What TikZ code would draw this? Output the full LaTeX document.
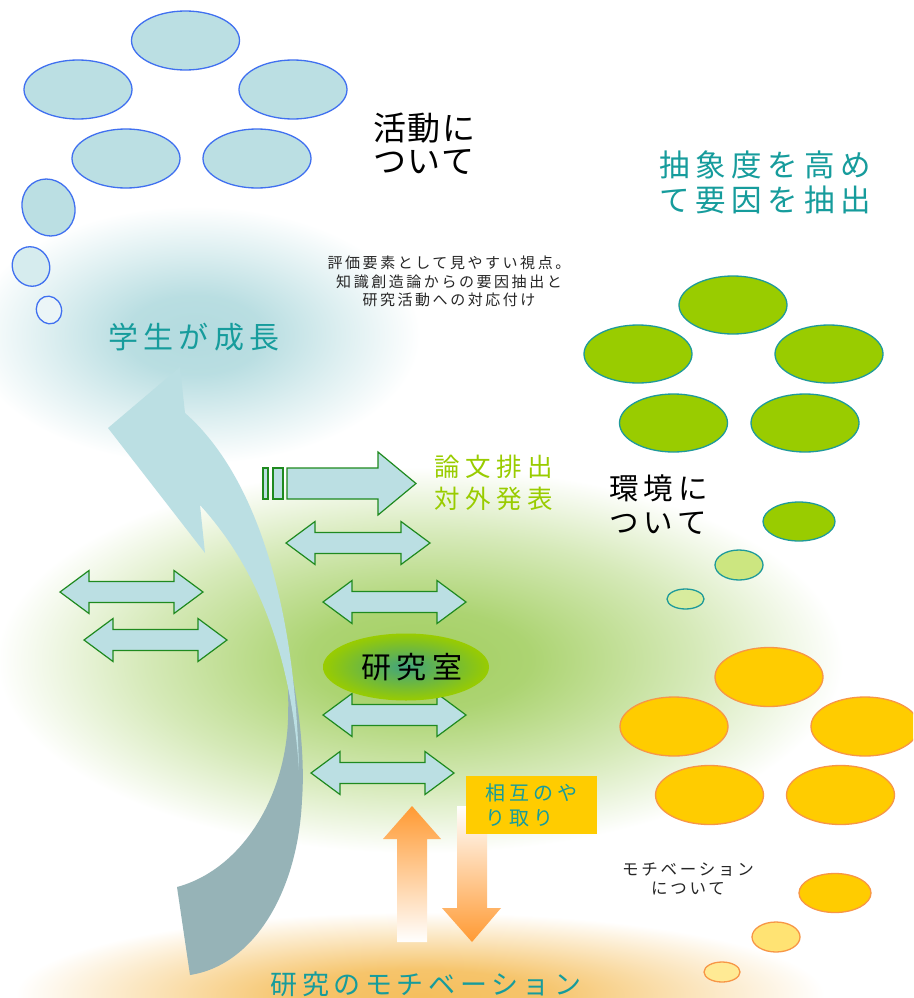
\documentclass[tikz,border=0pt]{standalone}
\usepackage{fontspec}
\setmainfont{Noto Sans CJK JP}
\newfontfamily\jpA[LetterSpace=17]{Noto Sans CJK JP}
\newfontfamily\jpB[LetterSpace=22]{Noto Sans CJK JP}
\newfontfamily\jpC[LetterSpace=5]{Noto Sans CJK JP}
\newfontfamily\jpD[LetterSpace=20]{Noto Sans CJK JP}
\newfontfamily\jpE[LetterSpace=19]{Noto Sans CJK JP}
\usetikzlibrary{shapes.geometric}
\definecolor{bubbleblue}{HTML}{4070F0}
\definecolor{lightfill}{HTML}{BBDFE3}
\definecolor{leafgreen}{HTML}{99CC00}
\definecolor{leafedge}{HTML}{1E9A9A}
\definecolor{sunyellow}{HTML}{FFCC00}
\definecolor{sunedge}{HTML}{F79646}
\definecolor{arrowgreen}{HTML}{1F8A1F}
\definecolor{tealtext}{HTML}{169C9C}
\definecolor{darkribbon}{HTML}{96B3B7}
\definecolor{arroworange}{HTML}{FF9A33}
\definecolor{glowteal}{HTML}{B3DBDF}
\definecolor{glowgreen}{HTML}{A3CF62}
\definecolor{gloworange}{HTML}{F5BF5E}
\definecolor{labcenter}{HTML}{2A9AA0}
\pgfdeclareradialshading{tealglow}{\pgfpoint{0bp}{0bp}}{color(0bp)=(glowteal); color(7bp)=(glowteal!92!white); color(15bp)=(glowteal!45!white); color(23bp)=(white); color(25bp)=(white); color(50bp)=(white)}
\pgfdeclareradialshading{greenglow}{\pgfpoint{0bp}{0bp}}{color(0bp)=(glowgreen); color(6bp)=(glowgreen!90!white); color(15bp)=(glowgreen!45!white); color(23bp)=(white); color(25bp)=(white); color(50bp)=(white)}
\pgfdeclareradialshading{orangeglow}{\pgfpoint{0bp}{0bp}}{color(0bp)=(gloworange); color(7bp)=(gloworange!92!white); color(15bp)=(gloworange!45!white); color(23bp)=(white); color(25bp)=(white); color(50bp)=(white)}
\newcommand\DblArr[3]{%
  \draw[blockarrow] (#1,#3) -- ({#1+29},{#3-21.5}) -- ({#1+29},{#3-10.5}) -- ({#2-29},{#3-10.5}) -- ({#2-29},{#3-21.5}) -- (#2,#3) -- ({#2-29},{#3+21.5}) -- ({#2-29},{#3+10.5}) -- ({#1+29},{#3+10.5}) -- ({#1+29},{#3+21.5}) -- cycle;}
\begin{document}
\begin{tikzpicture}[x=1pt,y=-1pt,
  bubble/.style={ellipse, draw=bubbleblue, fill=lightfill, line width=1.3pt, minimum width=108pt, minimum height=59pt, inner sep=0pt},
  leaf/.style={ellipse, draw=leafedge, fill=leafgreen, line width=1.3pt, minimum width=108pt, minimum height=58pt, inner sep=0pt},
  sun/.style={ellipse, draw=sunedge, fill=sunyellow, line width=1.3pt, minimum width=108pt, minimum height=59pt, inner sep=0pt},
  blockarrow/.style={draw=arrowgreen, fill=lightfill, line width=1.2pt, line join=miter},
  lbl/.style={inner sep=0pt, outer sep=0pt}]
\useasboundingbox (0,0) rectangle (913,998);
\clip (0,0) rectangle (913,998);
\fill[white] (0,0) rectangle (913,998);
% background glows
\begin{scope}[blend mode=multiply]
\shade[shading=tealglow] (195,335) ellipse (245pt and 140pt);
\shade[shading=greenglow] (420,660) ellipse (460pt and 210pt);
\shade[shading=orangeglow] (420,995) ellipse (440pt and 90pt);
\end{scope}
% thought bubble: activities
\node[bubble] (b1) at (185.5,40.5) {};
\node[bubble] (b2) at (78,89.5) {};
\node[bubble] (b3) at (293,89.5) {};
\node[bubble] (b4) at (126,158.5) {};
\node[bubble] (b5) at (257,158.5) {};
\node[bubble, minimum width=52pt, minimum height=58pt, rotate=25] (b6) at (48.5,207.5) {};
\node[bubble, minimum width=37pt, minimum height=40pt, rotate=25, fill=lightfill!60!white] (b7) at (31,266.5) {};
\node[bubble, minimum width=25pt, minimum height=28pt, rotate=20, fill=lightfill!30!white] (b8) at (49,310) {};
% thought bubble: environment
\node[leaf] (g1) at (733,305) {};
\node[leaf] (g2) at (638,354) {};
\node[leaf] (g3) at (829,354) {};
\node[leaf] (g4) at (673.5,423) {};
\node[leaf] (g5) at (805,423) {};
\node[leaf, minimum width=72pt, minimum height=39pt] (g6) at (799,521.5) {};
\node[leaf, minimum width=48pt, minimum height=30pt, fill=leafgreen!50!white] (g7) at (739,565) {};
\node[leaf, minimum width=37pt, minimum height=20pt, fill=leafgreen!38!white] (g8) at (685.5,599) {};
% thought bubble: motivation
\node[sun] (o1) at (769,677) {};
\node[sun] (o2) at (674,726.5) {};
\node[sun] (o3) at (865,726.5) {};
\node[sun] (o4) at (709.5,795) {};
\node[sun] (o5) at (840.5,795) {};
\node[sun, minimum width=72pt, minimum height=39pt] (o6) at (835,893) {};
\node[sun, minimum width=48pt, minimum height=30pt, fill=sunyellow!55!white] (o7) at (776,937) {};
\node[sun, minimum width=36pt, minimum height=20pt, fill=sunyellow!42!white] (o8) at (722,972) {};
% curved growth ribbon
\fill[darkribbon] (284,640) .. controls (300,700) and (305,760) .. (302,800)
  .. controls (298,890) and (255,965) .. (190,975) -- (177,887)
  .. controls (240,870) and (285,800) .. (288,720)
  .. controls (289,690) and (287,660) .. (284,640) -- cycle;
\fill[lightfill] (180,367) -- (185,413) .. controls (250,470) and (295,590) .. (299,770)
  .. controls (290,640) and (250,560) .. (200,505) -- (205,553) -- (108,428) -- cycle;
% block arrows
\draw[blockarrow] (287,468) -- (378,468) -- (378,452) -- (416,483.5) -- (378,515) -- (378,499) -- (287,499) -- cycle;
\draw[blockarrow] (263,468) rectangle (268,499);
\draw[blockarrow] (273,468) rectangle (283,499);
\DblArr{286}{430}{543}
\DblArr{323}{466}{602}
\DblArr{323}{466}{715}
\DblArr{311}{454}{773}
\DblArr{60}{203}{592}
\DblArr{84}{227}{640}
% laboratory
\node[ellipse, minimum width=166pt, minimum height=67pt, inner sep=0pt, inner color=labcenter!80!leafgreen, outer color=leafgreen] (lab) at (406,667) {};
\node[lbl, font=\jpA\fontsize{30}{30}\selectfont] (labtext) at (412,667) {研究室};
% orange arrows
\shade[top color=arroworange, bottom color=white] (412,806) -- (441,839) -- (427,839) -- (427,942) -- (397,942) -- (397,839) -- (383,839) -- cycle;
\shade[top color=white, bottom color=arroworange] (457,806) -- (487,806) -- (487,908) -- (501,908) -- (472,942) -- (442,908) -- (457,908) -- cycle;
\node[fill=sunyellow, minimum width=131pt, minimum height=58pt, inner sep=0pt, align=left, text=tealtext, font=\jpD\fontsize{20}{25}\selectfont] (mutual) at (531.5,805) {相互のや\\り取り};
% texts
\node[lbl, anchor=west, align=left, font=\jpC\fontsize{33}{33}\selectfont] (act) at (373,143.5) {活動に\\ついて};
\node[lbl, anchor=west, align=left, text=tealtext, font=\jpE\fontsize{30.5}{35}\selectfont] (abs) at (659,182.5) {抽象度を高め\\て要因を抽出};
\node[lbl, align=center, text=black!85, font=\jpA\fontsize{15}{18.5}\selectfont] (note) at (449,281.5) {評価要素として見やすい視点。\\知識創造論からの要因抽出と\\研究活動への対応付け};
\node[lbl, text=tealtext, font=\jpA\fontsize{30}{30}\selectfont] (grow) at (194,337) {学生が成長};
\node[lbl, anchor=west, align=left, text=leafgreen, font=\jpB\fontsize{25.5}{32}\selectfont] (pub) at (434,483) {論文排出\\対外発表};
\node[lbl, anchor=west, align=left, font=\jpA\fontsize{29.5}{34}\selectfont] (env) at (609,505) {環境に\\ついて};
\node[lbl, align=center, text=black!85, font=\jpA\fontsize{16.5}{19}\selectfont] (mot) at (688,878.5) {モチベーション\\について};
\node[lbl, text=tealtext, font=\jpA\fontsize{27}{27}\selectfont] (resmot) at (426,984) {研究のモチベーション};
\end{tikzpicture}
\end{document}
